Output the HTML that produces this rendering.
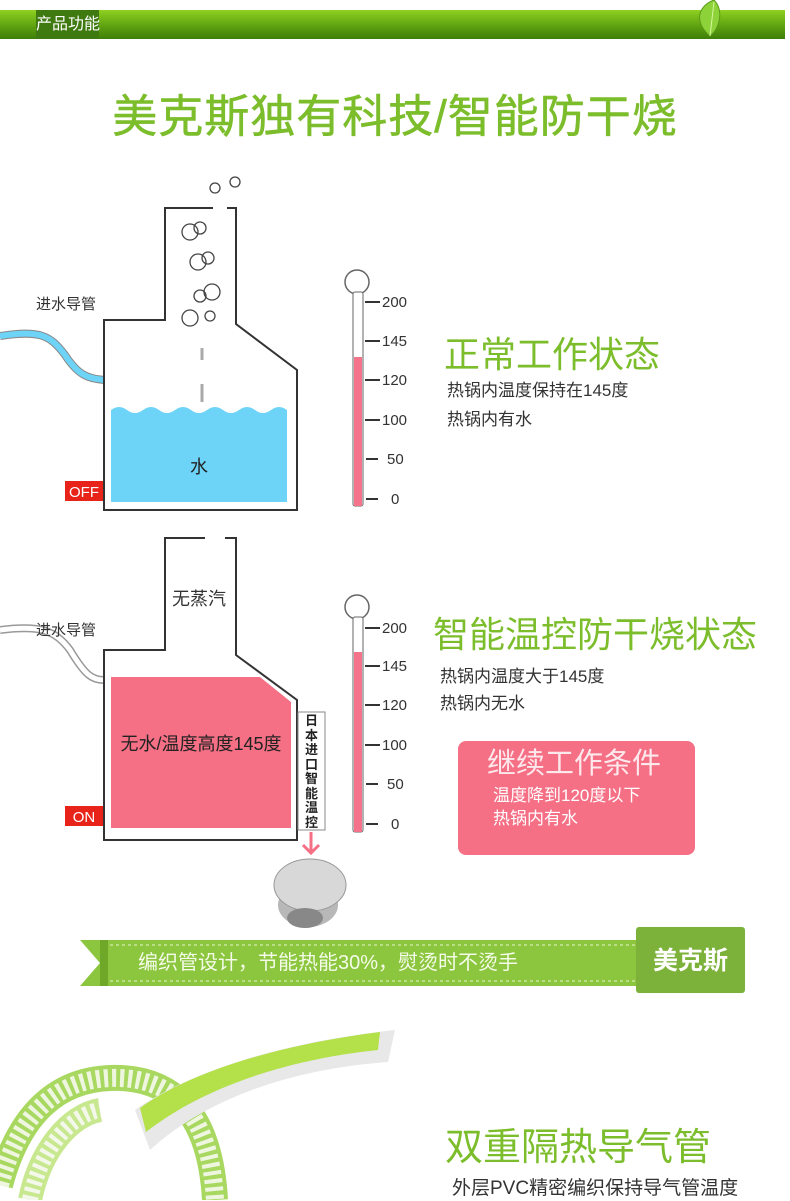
<!DOCTYPE html>
<html><head><meta charset="utf-8"><style>
body{margin:0;width:790px;height:1200px;overflow:hidden;background:#fff;position:relative;font-family:"Liberation Sans","Noto Sans CJK SC",sans-serif;}
.a{position:absolute;white-space:nowrap;}
.g{color:#7cbd2c;}
</style></head><body>
<div class="a" style="left:0;top:10px;width:785px;height:29px;background:linear-gradient(#8fd020,#5a9e10 60%,#3f7f08);"></div>
<div class="a" style="left:36px;top:10px;width:63px;height:29px;background:#3f7a10;color:#fff;font-size:16px;line-height:29px;text-align:center;">产品功能</div>
<svg class="a" style="left:690px;top:0" width="50" height="40"><path d="M20 36 C2 20 10 5 24 0 C34 10 30 28 20 36Z" fill="#8ed23a" stroke="#5a9a18"/><path d="M20 36 L24 2" stroke="#d8f5a0"/></svg>
<div class="a g" style="left:0;width:790px;top:86px;text-align:center;font-size:45px;line-height:62px;letter-spacing:1px;-webkit-text-stroke:0.6px #7cbd2c;">美克斯独有科技/智能防干烧</div>

<svg class="a" style="left:0;top:0" width="790" height="1200">
<!-- diagram 1 -->
<path d="M0 336 C40 330 50 335 65 355 C80 378 90 378 104 380" fill="none" stroke="#888" stroke-width="8"/>
<path d="M0 336 C40 330 50 335 65 355 C80 378 90 378 104 380" fill="none" stroke="#6dd3f7" stroke-width="6"/>
<path d="M213 208 H165 V320 H104 V510 H297 V370 L236 324 V208 H227" fill="none" stroke="#333" stroke-width="2"/>
<path d="M111 410 q8 -6 16 0 q8 6 16 0 q8 -6 16 0 q8 6 16 0 q8 -6 16 0 q8 6 16 0 q8 -6 16 0 q8 6 16 0 q8 -6 16 0 q8 6 16 0 q8 -6 16 0 V502 H111Z" fill="#6dd3f7"/>
<g fill="none" stroke="#444" stroke-width="1.3">
<circle cx="190" cy="232" r="8"/><circle cx="200" cy="228" r="6"/><circle cx="208" cy="258" r="6"/><circle cx="198" cy="262" r="8"/><circle cx="212" cy="292" r="8"/><circle cx="200" cy="296" r="6"/><circle cx="190" cy="318" r="8"/><circle cx="210" cy="316" r="5"/><circle cx="215" cy="188" r="5"/><circle cx="235" cy="182" r="5"/>
<path d="M202 348 v12 M202 384 v18" stroke-width="3" stroke="#aaa"/>
</g>
<rect x="65" y="481" width="38" height="20" fill="#e8231a"/>
<text x="84" y="497" fill="#fff" font-size="15" text-anchor="middle" font-family="Liberation Sans">OFF</text>
<circle cx="357" cy="282" r="12" fill="#fff" stroke="#666" stroke-width="1.5"/>
<rect x="353" y="292" width="10" height="214" fill="#fff" stroke="#666" rx="2"/>
<rect x="354" y="357" width="8" height="149" fill="#f4728a"/>
<g stroke="#333" stroke-width="2"><path d="M365 302h15M365 341h15M365 380h15M365 420h15M366 459h12M366 499h12"/></g>
<g font-size="15" fill="#333" font-family="Liberation Sans"><text x="382" y="307">200</text><text x="382" y="346">145</text><text x="382" y="385">120</text><text x="382" y="425">100</text><text x="387" y="464">50</text><text x="391" y="504">0</text></g>
<!-- diagram 2 -->
<path d="M0 630 C40 625 55 630 70 650 C85 675 92 680 104 680" fill="none" stroke="#999" stroke-width="8"/>
<path d="M0 630 C40 625 55 630 70 650 C85 675 92 680 104 680" fill="none" stroke="#fff" stroke-width="5"/>
<path d="M205 538 H165 V650 H104 V840 H297 V700 L236 655 V538 H225" fill="none" stroke="#333" stroke-width="2"/>
<path d="M111 677 H260 L291 702 V828 H111Z" fill="#f56f85"/>
<rect x="298" y="712" width="27" height="118" fill="#fff" stroke="#888"/>
<path d="M311 832 v20 M303 845 l8 8 l8 -8" stroke="#f56f85" stroke-width="3" fill="none"/>
<rect x="65" y="806" width="38" height="20" fill="#e8231a"/>
<text x="84" y="822" fill="#fff" font-size="15" text-anchor="middle" font-family="Liberation Sans">ON</text>
<circle cx="357" cy="607" r="12" fill="#fff" stroke="#666" stroke-width="1.5"/>
<rect x="353" y="617" width="10" height="215" fill="#fff" stroke="#666" rx="2"/>
<rect x="354" y="652" width="8" height="180" fill="#f4728a"/>
<g stroke="#333" stroke-width="2"><path d="M365 628h15M365 666h15M365 705h15M365 745h15M366 784h12M366 824h12"/></g>
<g font-size="15" fill="#333" font-family="Liberation Sans"><text x="382" y="633">200</text><text x="382" y="671">145</text><text x="382" y="710">120</text><text x="382" y="750">100</text><text x="387" y="789">50</text><text x="391" y="829">0</text></g>
<ellipse cx="308" cy="905" rx="30" ry="22" fill="#b8b8b8"/>
<ellipse cx="310" cy="885" rx="36" ry="26" fill="#d8d8d8" stroke="#999"/>
<ellipse cx="305" cy="918" rx="18" ry="10" fill="#888"/>
<!-- banner -->
<rect x="80" y="940" width="560" height="46" fill="#8cc63f"/>
<path d="M80 940 L100 963 L80 986Z" fill="#fff"/>
<rect x="100" y="940" width="8" height="46" fill="#6fa828"/>
<path d="M110 945 H640 M110 981 H640" stroke="#e8f5d0" stroke-dasharray="3 3"/>
<rect x="636" y="927" width="109" height="66" rx="3" fill="#7cb23a"/>
<!-- hose -->
<path d="M0 1185 C20 1110 60 1080 110 1078 C170 1076 210 1110 215 1200" fill="none" stroke="#a8d860" stroke-width="26"/>
<path d="M0 1185 C20 1110 60 1080 110 1078 C170 1076 210 1110 215 1200" fill="none" stroke="#eef6e0" stroke-width="18" stroke-dasharray="4 4"/>
<path d="M30 1200 C40 1150 70 1115 100 1110" fill="none" stroke="#c8e890" stroke-width="24"/>
<path d="M30 1200 C40 1150 70 1115 100 1110" fill="none" stroke="#f3f8ea" stroke-width="16" stroke-dasharray="4 4"/>
<path d="M135 1110 C200 1065 300 1040 395 1030 L388 1062 C300 1068 210 1095 150 1150Z" fill="#e8e8e8"/>
<path d="M140 1108 C200 1065 300 1042 380 1032 L378 1050 C300 1058 210 1082 146 1132Z" fill="#b4e04a"/>
</svg>

<div class="a g" style="left:444px;top:332px;font-size:36px;line-height:46px;">正常工作状态</div>
<div class="a" style="left:447px;top:380px;font-size:17px;line-height:22px;color:#333;">热锅内温度保持在145度</div>
<div class="a" style="left:447px;top:409px;font-size:17px;line-height:22px;color:#333;">热锅内有水</div>
<div class="a" style="left:36px;top:293px;font-size:15px;color:#333;">进水导管</div>
<div class="a" style="left:190px;top:453px;font-size:18px;color:#222;">水</div>

<div class="a" style="left:36px;top:619px;font-size:15px;color:#333;">进水导管</div>
<div class="a" style="left:172px;top:585px;font-size:18px;color:#333;">无蒸汽</div>
<div class="a" style="left:111px;top:730px;width:180px;text-align:center;font-size:18px;color:#222;">无水/温度高度145度</div>
<div class="a" style="left:301px;top:714px;width:21px;font-size:13px;line-height:14.5px;white-space:normal;font-weight:bold;color:#222;text-align:center;">日本进口智能温控</div>
<div class="a g" style="left:433px;top:612px;font-size:36px;line-height:46px;">智能温控防干烧状态</div>
<div class="a" style="left:440px;top:666px;font-size:17px;line-height:22px;color:#333;">热锅内温度大于145度</div>
<div class="a" style="left:440px;top:693px;font-size:17px;line-height:22px;color:#333;">热锅内无水</div>
<div class="a" style="left:458px;top:741px;width:237px;height:114px;background:#f56f85;border-radius:8px;"></div>
<div class="a" style="left:487px;top:745px;font-size:29px;line-height:38px;color:#fde8ec;">继续工作条件</div>
<div class="a" style="left:493px;top:785px;font-size:17px;line-height:21px;color:#fff;">温度降到120度以下</div>
<div class="a" style="left:493px;top:808px;font-size:17px;line-height:21px;color:#fff;">热锅内有水</div>

<div class="a" style="left:138px;top:950px;font-size:20px;line-height:26px;color:#f4fbe8;">编织管设计，节能热能30%，熨烫时不烫手</div>
<div class="a" style="left:636px;top:944px;width:109px;text-align:center;font-size:25px;line-height:34px;color:#fff;font-weight:bold;">美克斯</div>

<div class="a g" style="left:445px;top:1124px;font-size:38px;line-height:48px;">双重隔热导气管</div>
<div class="a" style="left:452px;top:1177px;font-size:19px;line-height:24px;color:#333;">外层PVC精密编织保持导气管温度</div>
</body></html>
